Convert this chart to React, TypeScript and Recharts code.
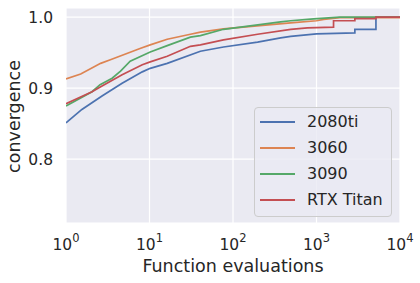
import { CartesianGrid, Line, LineChart, XAxis, YAxis } from 'recharts'

const seriesNames = ['2080ti', '3060', '3090', 'RTX Titan']
const seriesColors = ['#4C72B0', '#DD8452', '#55A868', '#C44E52']

// function evaluations / convergence
const evals2080ti = [1, 1.55, 2.7, 4.7, 8.2, 10.2, 16.3, 40.7, 77, 197, 372, 491, 1000, 2880, 2880, 5150, 5150, 10000]
const conv2080ti = [0.851, 0.87, 0.889, 0.907, 0.923, 0.928, 0.935, 0.952, 0.958, 0.965, 0.971, 0.973, 0.9765, 0.978, 0.983, 0.983, 1.0, 1.0]

const evals3060 = [1, 1.5, 2.6, 3.4, 7.7, 10.2, 16.3, 30.9, 40.7, 77, 491, 1000, 1220, 1900, 10000]
const conv3060 = [0.913, 0.92, 0.935, 0.94, 0.956, 0.961, 0.969, 0.976, 0.979, 0.9835, 0.992, 0.995, 0.997, 0.9995, 0.9995]

const evals3090 = [1, 2.05, 2.56, 3.57, 4.5, 5.87, 10.2, 16.3, 30.9, 40.7, 77, 372, 491, 927, 1900, 10000]
const conv3090 = [0.875, 0.895, 0.905, 0.914, 0.924, 0.938, 0.951, 0.96, 0.972, 0.974, 0.983, 0.9934, 0.995, 0.9976, 1.0, 1.0]

const evalsTitan = [1, 2.05, 2.7, 4.7, 8.2, 10.2, 16.3, 30.9, 40.7, 77, 197, 491, 778, 1600, 1600, 2880, 2880, 5150, 5150, 10000]
const convTitan = [0.878, 0.895, 0.903, 0.919, 0.933, 0.937, 0.945, 0.959, 0.961, 0.968, 0.976, 0.983, 0.985, 0.986, 0.995, 0.995, 0.998, 0.998, 1.0, 1.0]

const xTicks = [1, 10, 100, 1000, 10000]
const yTicks = [0.8, 0.9, 1.0]

const toPoints = (xs: number[], ys: number[]) => xs.map((x, i) => ({ x, y: ys[i] }))

const series = [
  toPoints(evals2080ti, conv2080ti),
  toPoints(evals3060, conv3060),
  toPoints(evals3090, conv3090),
  toPoints(evalsTitan, convTitan),
]

const textColor = '#262626'
const font = 'DejaVu Sans'

function PowerTick({ x, y, payload }: any) {
  const exp = Math.round(Math.log10(payload.value))
  return (
    <text x={x} y={y + 27} textAnchor="middle" fill={textColor} fontSize={15.5} fontFamily={font}>
      10
      <tspan dy={-8.3} fontSize={11.5}>
        {exp}
      </tspan>
    </text>
  )
}

export default function App() {
  return (
    <div style={{ position: 'absolute', left: 0, top: 0, width: 420, height: 283, background: '#fff' }}>
      <LineChart width={420} height={283} margin={{ top: 8, right: 20, bottom: 0, left: 0 }}>
        <CartesianGrid fill="#EAEAF2" stroke="#ffffff" strokeWidth={1.2} />
        <XAxis
          dataKey="x"
          type="number"
          scale="log"
          domain={[1, 10000]}
          ticks={xTicks}
          allowDataOverflow
          axisLine={false}
          tickLine={false}
          tickSize={0}
          tickMargin={0}
          height={60}
          tick={<PowerTick />}
          label={{
            content: ({ viewBox }: any) => (
              <text
                x={viewBox.x + viewBox.width / 2}
                y={271.5}
                textAnchor="middle"
                fill={textColor}
                fontSize={17.5}
                fontFamily={font}
              >
                Function evaluations
              </text>
            ),
          }}
        />
        <YAxis
          type="number"
          domain={[0.71, 1.013]}
          ticks={yTicks}
          allowDataOverflow
          axisLine={false}
          tickLine={false}
          tickSize={0}
          tickMargin={13}
          width={66}
          tickFormatter={(v: number) => v.toFixed(1)}
          tick={{ fill: textColor, fontSize: 15.5, fontFamily: font }}
          label={{
            content: () => (
              <text
                transform="translate(19.6,116.5) rotate(-90)"
                textAnchor="middle"
                fill={textColor}
                fontSize={17.5}
                fontFamily={font}
              >
                convergence
              </text>
            ),
          }}
        />
        {series.map((pts, i) => (
          <Line
            key={seriesNames[i]}
            data={pts}
            dataKey="y"
            name={seriesNames[i]}
            type="linear"
            stroke={seriesColors[i]}
            strokeWidth={1.7}
            dot={false}
            isAnimationActive={false}
          />
        ))}
      </LineChart>
      <div
        style={{
          position: 'absolute',
          left: 254,
          top: 107,
          width: 138,
          height: 110,
          boxSizing: 'border-box',
          border: '1px solid #cccccc',
          borderRadius: 4,
          background: 'rgba(234,234,242,0.8)',
          paddingTop: 1,
          fontFamily: font,
          fontSize: 16,
          color: textColor,
        }}
      >
        {seriesNames.map((name, i) => (
          <div key={name} style={{ display: 'flex', alignItems: 'center', height: 26 }}>
            <div style={{ marginLeft: 5, width: 35, height: 2, background: seriesColors[i] }} />
            <span style={{ marginLeft: 12, lineHeight: '26px' }}>{name}</span>
          </div>
        ))}
      </div>
    </div>
  )
}
